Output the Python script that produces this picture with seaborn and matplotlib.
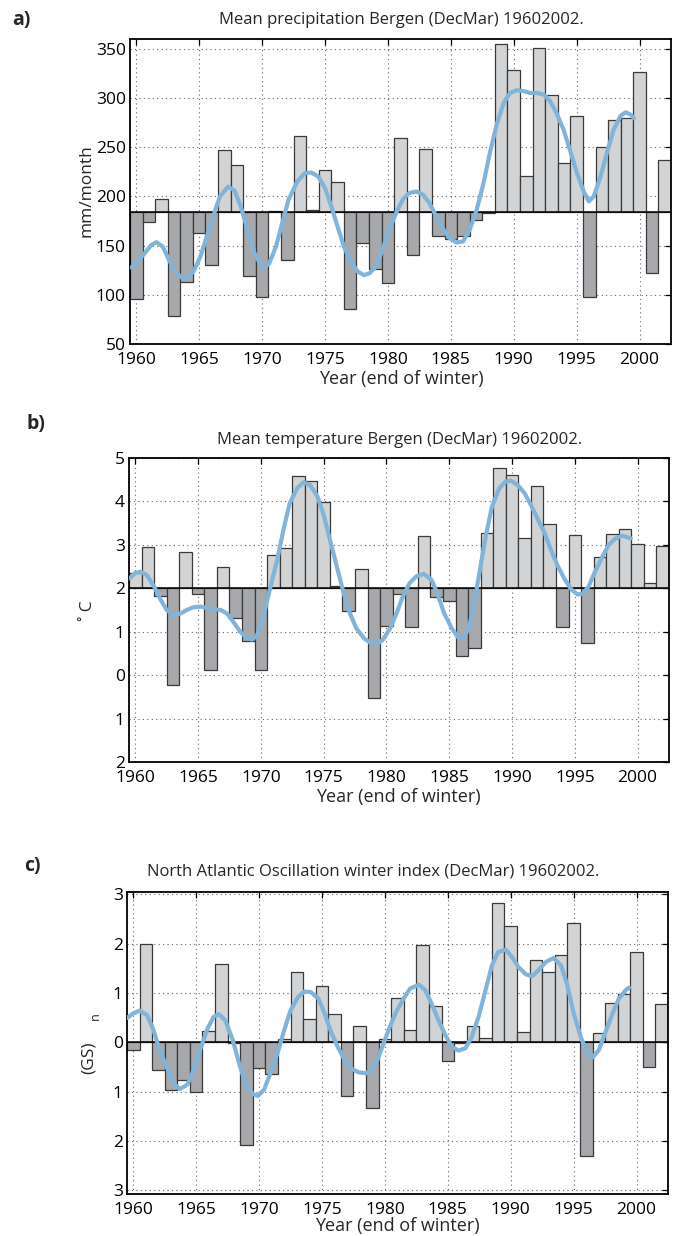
import numpy as np
import pandas as pd
import matplotlib
matplotlib.use("Agg")
import matplotlib.pyplot as plt
import seaborn as sns
from matplotlib.ticker import FixedLocator, FixedFormatter

# ---------------- data ----------------
years = list(range(1960, 2003))

precip = [96, 173.5, 197.3, 78.5, 113, 163.3, 130.4, 247.5, 231.5, 119.2,
          97.5, 185, 135.2, 261, 186, 226.5, 214.2, 86, 152.5, 126.7,
          112.4, 259.4, 140.6, 248.2, 160, 156.5, 160, 176.2, 183, 355,
          329, 220.3, 350.7, 302.8, 233.6, 282, 98.2, 250, 277.7, 279.4,
          326.2, 122, 237]
precip_base = 184

temp = [2.35, 2.96, 1.83, -0.23, 2.83, 1.86, 0.12, 2.48, 1.32, 0.79,
        0.12, 2.76, 2.92, 4.59, 4.46, 3.99, 2.06, 1.48, 2.44, -0.52,
        1.13, 1.86, 1.10, 3.21, 1.81, 1.71, 0.45, 0.63, 3.28, 4.76,
        4.62, 3.15, 4.36, 3.48, 1.10, 3.23, 0.75, 2.73, 3.25, 3.36,
        3.02, 2.12, 2.98]
temp_base = 2.0

nao = [-0.155, 1.99, -0.57, -0.96, -0.77, -1.00, 0.22, 1.59, -0.02, -2.08,
       -0.53, -0.65, 0.07, 1.42, 0.48, 1.15, 0.57, -1.09, 0.32, -1.34,
       0.07, 0.89, 0.24, 1.98, 0.73, -0.38, -0.02, 0.33, 0.09, 2.83,
       2.35, 0.20, 1.67, 1.42, 1.78, 2.42, -2.30, 0.18, 0.79, 0.97,
       1.83, -0.50, 0.78]
nao_base = 0.0

precip_curve_x = [1959.6, 1960.1, 1960.65, 1961.2, 1961.6, 1962.1, 1962.6, 1963.1, 1963.6, 1964.0,
                  1964.55, 1965.1, 1965.6, 1966.1, 1966.65, 1967.3, 1967.8, 1968.3, 1968.85, 1969.4,
                  1970.0, 1970.55, 1971.1, 1971.6, 1972.1, 1972.8, 1973.4, 1973.9, 1974.45, 1975.0,
                  1975.5, 1976.0, 1976.5, 1977.05, 1977.6, 1978.1, 1978.54, 1979.07, 1979.6, 1980.1,
                  1980.7, 1981.2, 1981.7, 1982.26, 1982.8, 1983.3, 1983.85, 1984.4, 1984.9, 1985.45,
                  1985.97, 1986.5, 1987.05, 1987.6, 1988.1, 1988.64, 1989.2, 1989.7, 1990.24, 1990.8,
                  1991.3, 1991.8, 1992.4, 1992.9, 1993.4, 1993.96, 1994.5, 1995.03, 1995.56, 1995.96,
                  1996.36, 1996.9, 1997.4, 1997.95, 1998.5, 1998.9, 1999.3, 1999.55]
precip_curve_y = [127.7, 134, 142, 150.8, 153.5, 149, 135.5, 123.6, 117.5, 117.2,
                  123.6, 139, 159, 179.6, 200, 210, 206, 190, 166, 142.3,
                  127.7, 131.4, 149, 172.8, 196.6, 215.3, 223.7, 224.4, 220.3, 208.5,
                  190, 169.4, 149, 133.8, 123.6, 120, 121.9, 128.7, 147.4, 166,
                  184.7, 197.3, 203.4, 205, 201.7, 193.2, 179.6, 166.7, 157.6, 153.2,
                  154.2, 166, 186.3, 213.6, 244, 273, 295, 305.2, 308, 307,
                  305.2, 305.2, 303.5, 296.7, 284.8, 267.9, 245.8, 223.7, 205, 194.9,
                  200, 220.3, 244, 268, 282.1, 285.5, 283, 279.4]

temp_curve_x = [1959.55, 1960.0, 1960.4, 1960.9, 1961.5, 1962.0, 1962.5, 1963.05, 1963.6, 1964.1,
                1964.6, 1965.2, 1965.7, 1966.2, 1966.8, 1967.3, 1967.8, 1968.35, 1968.9, 1969.3,
                1969.7, 1970.2, 1970.7, 1971.3, 1971.8, 1972.3, 1972.9, 1973.4, 1973.9, 1974.5,
                1975.0, 1975.5, 1976.05, 1976.6, 1977.1, 1977.6, 1978.2, 1978.7, 1979.3, 1979.7,
                1980.3, 1980.8, 1981.3, 1981.85, 1982.4, 1983.0, 1983.6, 1984.1, 1984.6, 1985.2,
                1985.7, 1986.1, 1986.5, 1986.9, 1987.4, 1987.9, 1988.4, 1989.0, 1989.5, 1989.9,
                1990.45, 1991.0, 1991.5, 1992.0, 1992.6, 1993.1, 1993.6, 1994.15, 1994.7, 1995.2,
                1995.6, 1996.1, 1996.6, 1997.2, 1997.7, 1998.25, 1998.8, 1999.45]
temp_curve_y = [2.23, 2.35, 2.38, 2.31, 2.04, 1.75, 1.5, 1.38, 1.42, 1.5,
                1.56, 1.58, 1.55, 1.52, 1.5, 1.42, 1.23, 1.0, 0.85, 0.82,
                0.92, 1.35, 1.96, 2.65, 3.35, 3.96, 4.31, 4.44, 4.38, 4.12,
                3.69, 3.12, 2.5, 1.88, 1.42, 1.08, 0.85, 0.75, 0.72, 0.81,
                1.08, 1.42, 1.81, 2.12, 2.28, 2.33, 2.19, 1.85, 1.42, 1.08,
                0.87, 0.85, 1.04, 1.5, 2.35, 3.19, 3.88, 4.31, 4.46, 4.48,
                4.38, 4.19, 3.92, 3.62, 3.27, 2.88, 2.54, 2.23, 1.98, 1.86,
                1.87, 2.04, 2.38, 2.73, 3.0, 3.15, 3.21, 3.15]

nao_curve_x = [1959.5, 1960.0, 1960.5, 1961.1, 1961.6, 1962.1, 1962.7, 1963.2, 1963.7, 1964.3,
               1964.8, 1965.3, 1965.9, 1966.4, 1966.8, 1967.3, 1967.9, 1968.4, 1968.9, 1969.5,
               1969.9, 1970.4, 1970.9, 1971.5, 1972.0, 1972.5, 1973.1, 1973.6, 1974.1, 1974.7,
               1975.2, 1975.7, 1976.3, 1976.8, 1977.3, 1977.9, 1978.5, 1979.0, 1979.4, 1979.9,
               1980.4, 1980.9, 1981.5, 1982.0, 1982.7, 1983.2, 1983.7, 1984.25, 1984.8, 1985.3,
               1985.85, 1986.4, 1986.9, 1987.45, 1988.0, 1988.5, 1989.0, 1989.6, 1990.1, 1990.6,
               1991.2, 1991.7, 1992.2, 1992.8, 1993.4, 1994.0, 1994.5, 1995.0, 1995.6, 1996.1,
               1996.5, 1997.0, 1997.55, 1998.1, 1998.6, 1999.15, 1999.4]
nao_curve_y = [0.49, 0.59, 0.64, 0.55, 0.25, -0.16, -0.53, -0.83, -0.95, -0.86,
               -0.56, -0.16, 0.28, 0.52, 0.57, 0.45, 0.05, -0.42, -0.83, -1.05,
               -1.09, -0.96, -0.63, -0.19, 0.25, 0.65, 0.92, 1.03, 1.02, 0.89,
               0.59, 0.22, -0.12, -0.36, -0.53, -0.61, -0.63, -0.55, -0.36, -0.02,
               0.32, 0.62, 0.89, 1.09, 1.17, 1.06, 0.79, 0.45, 0.15, -0.09,
               -0.17, -0.12, 0.11, 0.52, 1.06, 1.56, 1.83, 1.88, 1.73, 1.53,
               1.38, 1.34, 1.46, 1.63, 1.71, 1.56, 1.16, 0.59, 0.08, -0.22,
               -0.31, -0.16, 0.22, 0.59, 0.89, 1.06, 1.11]

x_ticks = [1960, 1965, 1970, 1975, 1980, 1985, 1990, 1995, 2000]
x_ticklabels = ["1960", "1965", "1970", "1975", "1980", "1985", "1990", "1995", "2000"]

a_yticks = [50, 100, 150, 200, 250, 300, 350]
a_yticklabels = ["50", "100", "150", "200", "250", "300", "350"]
b_yticks = [-2, -1, 0, 1, 2, 3, 4, 5]
b_yticklabels = ["2", "1", "0", "1", "2", "3", "4", "5"]
c_yticks = [-3, -2, -1, 0, 1, 2, 3]
c_yticklabels = ["3", "2", "1", "0", "1", "2", "3"]

titles = ["Mean precipitation Bergen (DecMar) 19602002.",
          "Mean temperature Bergen (DecMar) 19602002.",
          "North Atlantic Oscillation winter index (DecMar) 19602002."]
xlabel = "Year (end of winter)"

# ---------------- style ----------------
sns.set_theme(style="white")
plt.rcParams['font.family'] = ['Open Sans', 'DejaVu Sans']

LIGHT = "#d1d3d4"
DARK = "#a6a8ab"
EDGE = "#3a3a3a"
CURVE = "#82b3d9"

W, H = 680, 1236
fig = plt.figure(figsize=(W / 100, H / 100), dpi=100)


def fx(x):
    return x / W


def fy(y):
    return 1 - y / H


def panel(box, vals, base, cx, cy, ylim, yticks, yticklabels):
    l, t, r, b = box
    ax = fig.add_axes([fx(l), fy(b), (r - l) / W, (b - t) / H])
    df = pd.DataFrame({"year": years, "value": vals})
    df["anom"] = df["value"] - base
    colors = [LIGHT if a >= 0 else DARK for a in df["anom"]]
    ax.bar(df["year"], df["anom"], bottom=base, width=1.0, color=colors,
           edgecolor=EDGE, linewidth=0.9, zorder=2)
    ax.axhline(base, color="black", lw=1.1, zorder=3)
    cdf = pd.DataFrame({"x": cx, "y": cy})
    sns.lineplot(data=cdf, x="x", y="y", ax=ax, color=CURVE, lw=3.0,
                 sort=False, estimator=None, zorder=4)
    ax.set_xlim(1959.5, 2002.5)
    ax.set_ylim(*ylim)
    ax.xaxis.set_major_locator(FixedLocator(x_ticks))
    ax.xaxis.set_major_formatter(FixedFormatter(x_ticklabels))
    ax.yaxis.set_major_locator(FixedLocator(yticks))
    ax.yaxis.set_major_formatter(FixedFormatter(yticklabels))
    ax.set_axisbelow(True)
    ax.grid(True, linestyle=(0, (1, 3)), color="#666666", lw=0.8)
    ax.tick_params(direction="in", top=True, right=True, length=4, width=0.9,
                   labelsize=12.5, pad=3, colors="black")
    ax.tick_params(axis="x", pad=6)
    for s in ax.spines.values():
        s.set_visible(True)
        s.set_color("black")
        s.set_linewidth(1.3)
    ax.set_xlabel("")
    ax.set_ylabel("")
    return ax


ax_a = panel((130, 39, 671, 344), precip, precip_base, precip_curve_x, precip_curve_y,
             (50, 360), a_yticks, a_yticklabels)
ax_b = panel((129, 458, 669, 762), temp, temp_base, temp_curve_x, temp_curve_y,
             (-2, 5), b_yticks, b_yticklabels)
ax_c = panel((127, 892, 668, 1194), nao, nao_base, nao_curve_x, nao_curve_y,
             (-3.08, 3.05), c_yticks, c_yticklabels)

# titles
fig.text(fx(401), fy(20), titles[0], ha="center", va="center", fontsize=12)
fig.text(fx(400), fy(440), titles[1], ha="center", va="center", fontsize=12)
fig.text(fx(373), fy(871), titles[2], ha="center", va="center", fontsize=12)

# x labels
fig.text(fx(401), fy(379), xlabel, ha="center", va="center", fontsize=13)
fig.text(fx(398), fy(797), xlabel, ha="center", va="center", fontsize=13)
fig.text(fx(397), fy(1226), xlabel, ha="center", va="center", fontsize=13)

# y labels
fig.text(fx(87), fy(191), "mm/month", ha="center", va="center", rotation=90, fontsize=12.5)
fig.text(fx(88), fy(611), "\u02da C", ha="center", va="center", rotation=90, fontsize=12.5)
fig.text(fx(89), fy(1058), "(GS)", ha="center", va="center", rotation=90, fontsize=12.5)
fig.text(fx(95), fy(1016), "n", ha="center", va="center", rotation=90, fontsize=9)

# panel letters
fig.text(fx(21), fy(20), "a)", ha="center", va="center", fontsize=14, fontweight="bold")
fig.text(fx(36), fy(424), "b)", ha="center", va="center", fontsize=14, fontweight="bold")
fig.text(fx(32), fy(866), "c)", ha="center", va="center", fontsize=14, fontweight="bold")

fig.savefig("out.png", dpi=100)
